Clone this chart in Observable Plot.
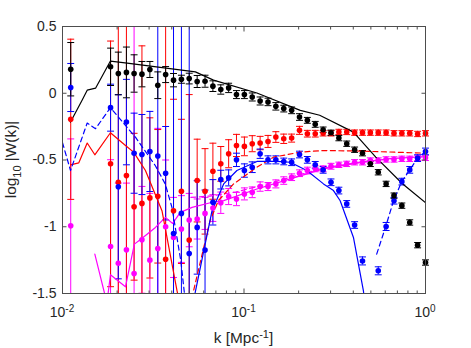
<!DOCTYPE html>
<html><head><meta charset="utf-8">
<script src="https://cdn.jsdelivr.net/npm/d3@7"></script>
<script src="https://cdn.jsdelivr.net/npm/@observablehq/plot@0.6"></script>
<style>
html,body{margin:0;padding:0;background:#fff;}
#chart{width:471px;height:348px;}
svg{font-family:"Liberation Sans",Arial,Helvetica,sans-serif;}
</style></head><body><div id="chart"></div>
<script>
// ---- data (k in Mpc^-1, values are log10|W(k)|) ----
const kVals = [0.0111, 0.0184, 0.0203, 0.0225, 0.0248, 0.0274, 0.0303, 0.0335, 0.0370, 0.0409, 0.0452, 0.0499, 0.0552, 0.0610, 0.0674, 0.0745, 0.0823, 0.0909, 0.1005, 0.1110, 0.1227, 0.1356, 0.1498, 0.1656, 0.1830, 0.2022, 0.2234, 0.2469, 0.2729, 0.3015, 0.3332, 0.3682, 0.4069, 0.4496, 0.4969, 0.5491, 0.6067, 0.6705, 0.7409, 0.8188, 0.9048, 1.0];

const blackVals = [0.180, 0.198, 0.148, 0.156, 0.148, 0.143, 0.178, 0.060, 0.140, 0.098, 0.105, 0.110, 0.088, 0.090, 0.053, 0.028, 0.040, -0.010, -0.010, -0.028, -0.058, -0.065, -0.098, -0.115, -0.128, -0.178, -0.203, -0.233, -0.273, -0.296, -0.336, -0.378, -0.423, -0.449, -0.529, -0.592, -0.679, -0.767, -0.842, -0.968, -1.138, -1.268];
const blackErr = [0.20, 0.14, 0.16, 0.19, 0.14, 0.095, 0.06, 0.10, 0.06, 0.05, 0.03, 0.04, 0.045, 0.045, 0.04, 0.035, 0.035, 0.03, 0.03, 0.03, 0.03, 0.028, 0.028, 0.025, 0.025, 0.025, 0.022, 0.022, 0.02, 0.02, 0.02, 0.02, 0.02, 0.02, 0.02, 0.02, 0.02, 0.02, 0.02, 0.02, 0.02, 0.02];

const redVals = [-0.195, -0.529, -0.667, -0.617, -0.85, -0.825, -0.784, -0.772, -1.243, -0.88, -0.735, -1.1, -0.654, -0.735, -0.584, -0.529, -0.453, -0.391, -0.398, -0.378, -0.373, -0.361, -0.328, -0.341, -0.336, -0.278, -0.303, -0.303, -0.30, -0.30, -0.29, -0.29, -0.295, -0.295, -0.295, -0.295, -0.295, -0.30, -0.30, -0.30, -0.305, -0.30];
const redErr = [0.6, 0.92, 1.5, 1.5, 0.55, 1.18, 0.6, 0.5, 1.8, 0.835, 0.54, 1.09, 0.31, 0.32, 0.21, 0.13, 0.105, 0.083, 0.07, 0.06, 0.05, 0.045, 0.04, 0.035, 0.03, 0.03, 0.025, 0.025, 0.02, 0.02, 0.02, 0.02, 0.02, 0.02, 0.02, 0.02, 0.02, 0.02, 0.02, 0.02, 0.02, 0.02];

const blueVals = [0.043, -0.108, -0.70, -0.216, -0.449, -0.459, -0.436, -0.47, -0.599, -1.05, -0.9, -1.2, -1.005, -1.175, -0.817, -0.647, -0.634, -0.499, -0.579, -0.554, -0.453, -0.499, -0.499, -0.511, -0.517, -0.459, -0.499, -0.536, -0.574, -0.667, -0.729, -0.829, -0.987, -1.256, null, -1.33, -0.998, -0.805, -0.662, -0.574, -0.486, -0.436];
const blueErr = [0.18, 0.176, 0.69, 0.32, 0.3, 0.3, 0.3, 1.5, 0.35, 1.6, 1.5, 1.8, 0.35, 0.45, 0.17, 0.07, 0.06, 0.05, 0.05, 0.04, 0.035, 0.03, 0.03, 0.025, 0.025, 0.025, 0.025, 0.025, 0.025, 0.025, 0.025, 0.025, 0.025, 0.03, null, 0.03, 0.03, 0.025, 0.025, 0.025, 0.025, 0.025];

const magVals = [-0.992, -1.148, -1.273, -1.173, -1.35, -1.098, -1.25, -1.163, -1.0, -1.08, -1.017, -0.95, -0.942, -0.9, -0.86, -0.82, -0.774, -0.792, -0.754, -0.742, -0.699, -0.699, -0.679, -0.654, -0.629, -0.599, -0.579, -0.566, -0.566, -0.547, -0.536, -0.529, -0.517, -0.517, -0.504, -0.504, -0.496, -0.496, -0.491, -0.491, -0.484, -0.484];
const magErr = [0.65, 0.65, 0.6, 0.5, 2.0, 0.4, 0.5, 0.9, 0.5, 0.3, 0.25, 0.2, 0.15, 0.12, 0.1, 0.08, 0.06, 0.05, 0.045, 0.04, 0.035, 0.03, 0.03, 0.028, 0.025, 0.025, 0.025, 0.022, 0.022, 0.022, 0.02, 0.02, 0.02, 0.02, 0.02, 0.02, 0.02, 0.02, 0.02, 0.02, 0.02, 0.02];

// model curves
const blackLineK = [0.01107, 0.01282, 0.01368, 0.01521, 0.01837, 0.02270, 0.05395, 0.06792, 0.1178, 0.2042, 0.2612, 0.4009, 0.5321, 0.7464, 1.0];
const blackLineV = [-0.216, -0.053, 0.023, 0.038, 0.241, 0.226, 0.160, 0.098, 0.002, -0.128, -0.165, -0.291, -0.479, -0.678, -0.82];

const redSolidK = [0.01107, 0.01230, 0.01368, 0.01507, 0.01837, 0.02223, 0.02466, 0.02864, 0.03532, 0.04276, 0.04467];
const redSolidV = [-0.536, -0.521, -0.373, -0.461, -0.296, -0.391, -0.441, -0.579, -0.880, -1.48, -1.6];

const redDashK = [0.05129, 0.05272, 0.06501, 0.07228, 0.08770, 0.1178, 0.1455, 0.2042, 0.2742, 0.3981, 0.6310, 1.0];
const redDashV = [-1.6, -1.48, -0.955, -0.804, -0.679, -0.554, -0.479, -0.441, -0.429, -0.432, -0.440, -0.449];

const blueSolidK = [0.05188, 0.0537, 0.06668, 0.07727, 0.09141, 0.1178, 0.1517, 0.1799, 0.2218, 0.2742, 0.3112, 0.3388, 0.4009, 0.4550, 0.4645];
const blueSolidV = [-1.6, -1.5, -0.88, -0.679, -0.579, -0.511, -0.511, -0.517, -0.579, -0.679, -0.729, -0.805, -1.08, -1.48, -1.6];

const blueDashK = [0.01, 0.01107, 0.01368, 0.01521, 0.01837, 0.02523, 0.03243, 0.03681, 0.04009, 0.04487, 0.04786, 0.2, 0.5383, 0.6039, 0.6668, 0.7396, 0.8185, 0.9057, 1.0];
const blueDashV = [-0.37, -0.579, -0.223, -0.265, -0.108, -0.329, -0.541, -0.679, -0.855, -1.256, -1.6, null, -1.205, -0.998, -0.805, -0.662, -0.574, -0.486, -0.436];

const magSolidK = [0.01507, 0.01710, 0.01746, 0.01837, 0.02223, 0.02489, 0.02723, 0.03251, 0.03690, 0.04046, 0.04457, 0.05176, 0.06516, 0.07727, 0.1178, 0.1799, 0.2742, 0.4365, 0.6383, 1.0];
const magSolidV = [-1.205, -1.506, -1.6, -1.36, -1.45, -1.13, -1.09, -1.005, -0.93, -0.975, -0.892, -0.855, -0.82, -0.804, -0.717, -0.641, -0.566, -0.52, -0.49, -0.474];

const magDashK = [0.0510, 0.0650, 0.0900, 0.1178, 0.1800, 0.2742, 0.4365, 0.6383, 1.0];
const magDashV = [-0.78, -0.77, -0.74, -0.70, -0.63, -0.56, -0.515, -0.49, -0.474];

const xMajor = [0.01, 0.1, 1];
const xExp = ["-2", "-1", "0"];
const xMinor = [0.02,0.03,0.04,0.05,0.06,0.07,0.08,0.09,0.2,0.3,0.4,0.5,0.6,0.7,0.8,0.9];
const yTicks = [-1.5, -1, -0.5, 0, 0.5];

// ---- build ----
const YMIN = -1.5, YMAX = 0.5;
const capF = 1.045;
const axisColor = "#4d4d4d";
const textColor = "#262626";

function pts(v, e) {
  return kVals.map((k, i) => ({k, v: v[i], e: e[i]})).filter(d => d.v != null);
}
function curve(K, V) { return K.map((k, i) => ({k, v: V[i] == null ? NaN : V[i]})); }

const series = [
  {v: magVals, e: magErr, c: "#ff00ff"},
  {v: redVals, e: redErr, c: "#ff0000"},
  {v: blueVals, e: blueErr, c: "#0000ff"},
  {v: blackVals, e: blackErr, c: "#000000"}
];

const marks = [];
// error bars
for (const s of series) {
  const d = pts(s.v, s.e);
  marks.push(Plot.ruleX(d, {x: "k", y1: p => Math.max(YMIN, p.v - p.e), y2: p => Math.min(YMAX, p.v + p.e), stroke: s.c, strokeWidth: 1}));
  const hi = d.filter(p => p.v + p.e <= YMAX);
  const lo = d.filter(p => p.v - p.e >= YMIN);
  marks.push(Plot.link(hi, {x1: p => p.k / capF, x2: p => p.k * capF, y1: p => p.v + p.e, y2: p => p.v + p.e, stroke: s.c, strokeWidth: 1}));
  marks.push(Plot.link(lo, {x1: p => p.k / capF, x2: p => p.k * capF, y1: p => p.v - p.e, y2: p => p.v - p.e, stroke: s.c, strokeWidth: 1}));
}
// model lines
const lineSpec = [
  [magSolidK, magSolidV, "#ff00ff", null],
  [magDashK, magDashV, "#ff00ff", "5,3.5"],
  [redSolidK, redSolidV, "#ff0000", null],
  [redDashK, redDashV, "#ff0000", "5,3.5"],
  [blueSolidK, blueSolidV, "#0000ff", null],
  [blueDashK, blueDashV, "#0000ff", "5,3.5"],
  [blackLineK, blackLineV, "#000000", null]
];
for (const [K, V, c, dash] of lineSpec) {
  marks.push(Plot.line(curve(K, V), {x: "k", y: "v", stroke: c, strokeWidth: 1.2, strokeDasharray: dash, clip: true}));
}
// points
for (const s of series) {
  marks.push(Plot.dot(pts(s.v, s.e), {x: "k", y: "v", r: 2.8, fill: s.c, stroke: "none"}));
}
// axes: ticks inward on all four sides
marks.push(Plot.axisX(xMajor, {anchor: "bottom", tickSize: -4.5, fill: "none", stroke: axisColor, label: null}));
marks.push(Plot.axisX(xMajor, {anchor: "top", tickSize: -4.5, fill: "none", stroke: axisColor, label: null}));
marks.push(Plot.axisX(xMinor, {anchor: "bottom", tickSize: -2.5, fill: "none", stroke: axisColor, label: null}));
marks.push(Plot.axisX(xMinor, {anchor: "top", tickSize: -2.5, fill: "none", stroke: axisColor, label: null}));
marks.push(Plot.axisY(yTicks, {anchor: "left", tickSize: -4.5, fill: "none", stroke: axisColor, label: null}));
marks.push(Plot.axisY(yTicks, {anchor: "right", tickSize: -4.5, fill: "none", stroke: axisColor, label: null}));
marks.push(Plot.axisY(yTicks, {anchor: "left", tickSize: 0, tickPadding: 6, tickFormat: d => String(d), fontSize: 14, fill: textColor, label: null}));
marks.push(Plot.frame({stroke: axisColor, strokeWidth: 1}));

const plot = Plot.plot({
  width: 471, height: 348,
  marginLeft: 62, marginRight: 46, marginTop: 26, marginBottom: 55,
  style: {fontFamily: '"Liberation Sans", Arial, Helvetica, sans-serif', background: "#fff", overflow: "visible"},
  x: {type: "log", domain: [0.01, 1], axis: null},
  y: {domain: [YMIN, YMAX], axis: null},
  marks
});
document.getElementById("chart").appendChild(plot);

// tick labels with superscripts and axis titles, placed through the plot's scales
const sx = plot.scale("x"), sy = plot.scale("y");
const svg = d3.select(plot);
const bottomY = sy.apply(YMIN);
xMajor.forEach((k, i) => {
  const t = svg.append("text")
    .attr("x", sx.apply(k)).attr("y", bottomY + 24)
    .attr("text-anchor", "middle").attr("font-size", 14).attr("fill", textColor);
  t.append("tspan").text("10");
  t.append("tspan").attr("dy", -5).attr("font-size", 10).text(xExp[i]);
});
const midX = (sx.apply(0.01) + sx.apply(1)) / 2;
const xl = svg.append("text").attr("x", midX).attr("y", bottomY + 50)
  .attr("text-anchor", "middle").attr("font-size", 15.4).attr("fill", textColor);
xl.append("tspan").text("k [Mpc");
xl.append("tspan").attr("dy", -5.5).attr("font-size", 11).text("-1");
xl.append("tspan").attr("dy", 5.5).text("]");

const midY = (sy.apply(YMIN) + sy.apply(YMAX)) / 2;
const yl = svg.append("text").attr("transform", `translate(16,${midY}) rotate(-90)`)
  .attr("text-anchor", "middle").attr("font-size", 15.4).attr("fill", textColor);
yl.append("tspan").text("log");
yl.append("tspan").attr("dy", 4.5).attr("font-size", 11).text("10");
yl.append("tspan").attr("dy", -4.5).text(" |W(k)|");
</script>
</body></html>
